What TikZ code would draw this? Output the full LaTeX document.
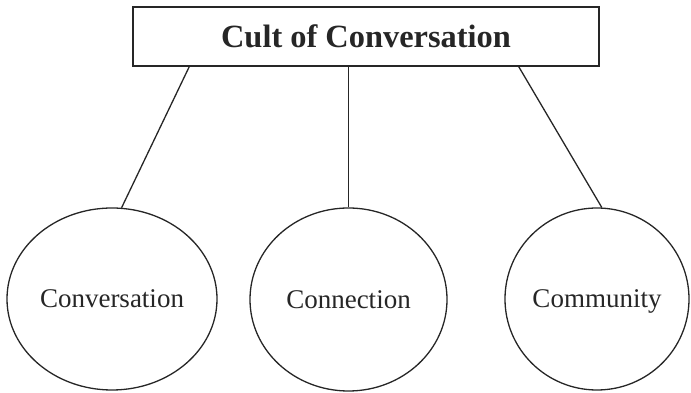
\documentclass[tikz,border=0pt]{standalone}
\usepackage{fontspec}
\setmainfont{Liberation Serif}
\usetikzlibrary{shapes.geometric,calc}
\begin{document}
\begin{tikzpicture}[x=1pt,y=1pt,
  titlebox/.style={draw=black!85, line width=1.6pt, inner sep=0pt, minimum width=466pt, minimum height=59pt, text height=22pt, text depth=0pt, font=\fontsize{32.4}{36}\selectfont\bfseries, text=black!85},
  bubble/.style={ellipse, draw=black!85, line width=1.3pt, inner sep=0pt, text height=18.5pt, text depth=0.5pt, font=\fontsize{27}{30}\selectfont, text=black!85},
  link/.style={draw=black!85, line width=1.3pt}]
\useasboundingbox (0,0) rectangle (691,393);
\node[titlebox] (box) at (366,356.5) {Cult of Conversation};
\node[bubble, minimum width=210pt, minimum height=182pt] (left) at (112,94) {Conversation};
\node[bubble, minimum width=197pt, minimum height=183pt] (mid) at (348.5,93.5) {Connection};
\node[bubble, minimum width=184pt, minimum height=182pt] (right) at (597,94) {Community};
\draw[link] ($(box.south west)+(57,0)$) -- (left.84);
\draw[link] (box.south -| mid.north) -- (mid.north);
\draw[link] ($(box.south east)+(-81,0)$) -- (right.87);
\end{tikzpicture}
\end{document}
